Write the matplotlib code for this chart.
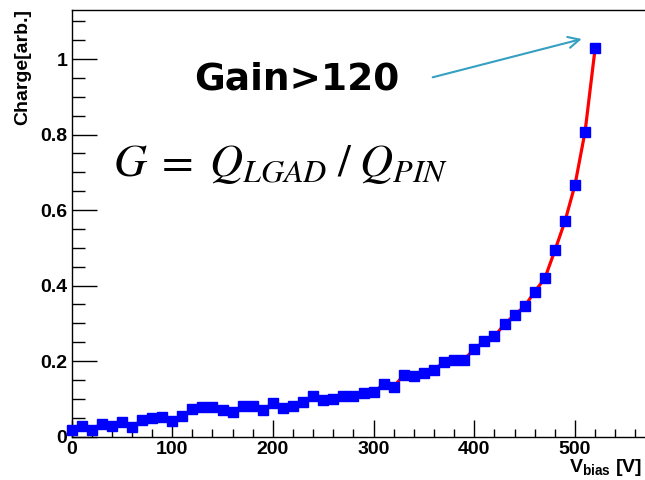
import matplotlib
matplotlib.use("Agg")
import matplotlib.pyplot as plt
from matplotlib.ticker import MultipleLocator

plt.rcParams['font.family'] = ['Liberation Sans', 'DejaVu Sans']
plt.rcParams['mathtext.fontset'] = 'custom'
plt.rcParams['mathtext.rm'] = 'Liberation Sans:bold'
plt.rcParams['mathtext.bf'] = 'Liberation Sans:bold'
plt.rcParams['mathtext.it'] = 'Liberation Sans:bold'

# Data
v_bias = [0, 10, 20, 30, 40, 50, 60, 70, 80, 90, 100, 110, 120, 130, 140, 150,
          160, 170, 180, 190, 200, 210, 220, 230, 240, 250, 260, 270, 280, 290,
          300, 310, 320, 330, 340, 350, 360, 370, 380, 390, 400, 410, 420, 430,
          440, 450, 460, 470, 480, 490, 500, 510, 520]
charge = [0.018, 0.029, 0.018, 0.034, 0.028, 0.038, 0.025, 0.044, 0.048, 0.051,
          0.042, 0.053, 0.073, 0.079, 0.079, 0.071, 0.064, 0.082, 0.082, 0.071,
          0.088, 0.076, 0.082, 0.091, 0.107, 0.097, 0.100, 0.106, 0.107, 0.116,
          0.117, 0.139, 0.132, 0.163, 0.161, 0.169, 0.177, 0.197, 0.204, 0.204,
          0.232, 0.2525, 0.265, 0.298, 0.322, 0.345, 0.384, 0.419, 0.493, 0.570,
          0.667, 0.808, 1.029]

x_ticks = [0, 100, 200, 300, 400, 500]
x_ticklabels = ['0', '100', '200', '300', '400', '500']
y_ticks = [0, 0.2, 0.4, 0.6, 0.8, 1.0]
y_ticklabels = ['0', '0.2', '0.4', '0.6', '0.8', '1']

W, H = 645, 480
fig = plt.figure(figsize=(6.45, 4.8), dpi=100)
ax = fig.add_axes([71.5 / W, 1 - 436.5 / H, 1 - 71.5 / W, (436.5 - 10) / H])

ax.plot(v_bias, charge, color='red', lw=2.3, zorder=2, clip_on=False)
ax.plot(v_bias, charge, ls='none', marker='s', ms=7.6, mfc='#0000ff',
        mec='#0000ff', zorder=3, clip_on=False)

ax.set_xlim(0, 569.5)
ax.set_ylim(0, 1.13)

ax.set_xticks(x_ticks)
ax.set_xticklabels(x_ticklabels, fontweight='bold', fontsize=14)
ax.set_yticks(y_ticks)
ax.set_yticklabels(y_ticklabels, fontweight='bold', fontsize=14)
ax.xaxis.set_minor_locator(MultipleLocator(20))
ax.yaxis.set_minor_locator(MultipleLocator(0.05))
ax.tick_params(axis='x', which='major', direction='in', length=12, width=1, pad=3.5)
ax.tick_params(axis='x', which='minor', direction='in', length=6, width=1)
ax.tick_params(axis='y', which='major', direction='in', length=18, width=1, pad=3)
ax.tick_params(axis='y', which='minor', direction='in', length=9, width=1)
ax.spines['right'].set_visible(False)
for s in ['left', 'bottom', 'top']:
    ax.spines[s].set_linewidth(1.0)

fig.text(23 / W, 1 - 9 / H, 'Charge[arb.]', rotation=90, ha='center', va='top',
         fontweight='bold', fontsize=14)
fig.text(642 / W, 1 - 472 / H, r'V$_{\mathbf{bias}}$ [V]', ha='right',
         va='baseline', fontweight='bold', fontsize=14)

fig.text(297 / W, 1 - 90 / H, 'Gain>120', family=['DejaVu Sans'],
         fontweight='bold', fontsize=27, ha='center', va='baseline', color='black')
fig.text(113 / W, 1 - 176 / H, r'$G\;=\;Q_{LGAD}\;/\;Q_{PIN}$', math_fontfamily='stix',
         fontsize=33, ha='left', va='baseline', color='black')

fig.add_artist(matplotlib.patches.FancyArrowPatch(
    (432.7 / W, 1 - 77.3 / H), (581.7 / W, 1 - 39 / H), transform=fig.transFigure,
    arrowstyle='->,head_length=8,head_width=4', color='#35a0c0', lw=1.5,
    mutation_scale=1, shrinkA=0, shrinkB=0))

fig.savefig('out.png', dpi=100)
